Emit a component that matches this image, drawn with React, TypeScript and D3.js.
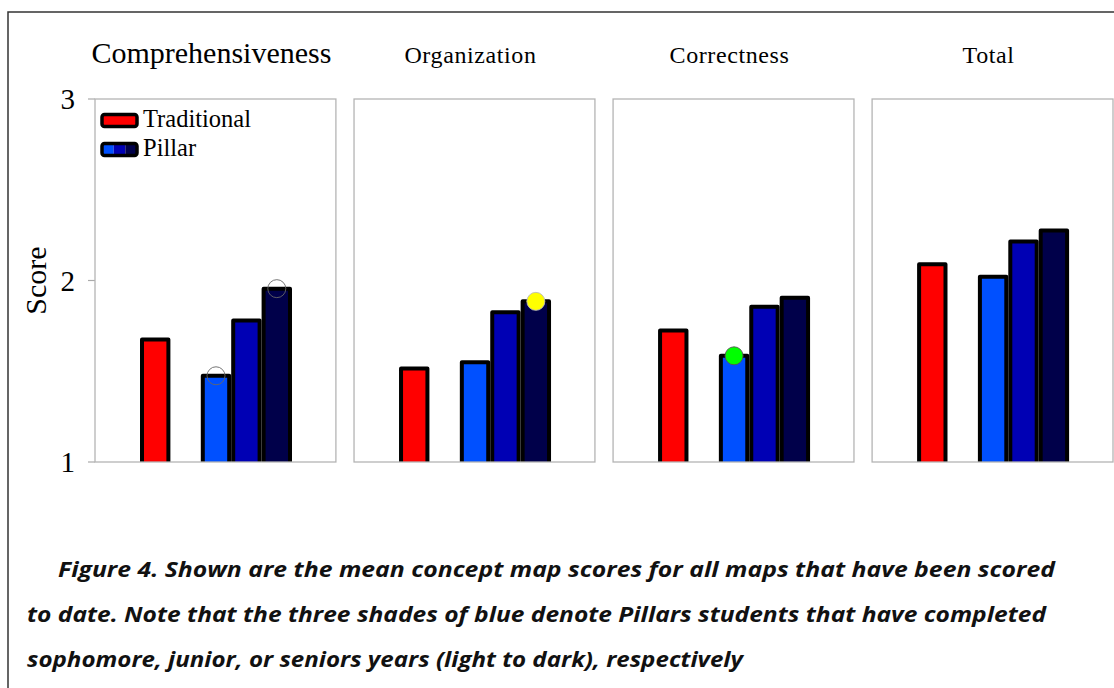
import { useEffect, useRef } from 'react';
import * as d3 from 'd3';

const metrics = ['Comprehensiveness', 'Organization', 'Correctness', 'Total'];
const groups = ['Traditional', 'gap', 'Sophomore', 'Junior', 'Senior'];
const traditional = [1.675, 1.515, 1.725, 2.09];
const sophomore = [1.475, 1.55, 1.585, 2.02];
const junior = [1.78, 1.825, 1.855, 2.215];
const senior = [1.955, 1.885, 1.905, 2.275];
const yTicks = [1, 2, 3];
// markers sitting on top of some bars: [metric, group, fill, stroke]
const markers: Array<[string, string, string, string]> = [
  ['Comprehensiveness', 'Sophomore', 'none', '#666'],
  ['Comprehensiveness', 'Senior', 'none', '#666'],
  ['Organization', 'Senior', '#ffff00', '#bbb'],
  ['Correctness', 'Sophomore', '#00ff00', '#555'],
];
const captionLines = [
  'Figure 4. Shown are the mean concept map scores for all maps that have been scored',
  'to date. Note that the three shades of blue denote Pillars students that have completed',
  'sophomore, junior, or seniors years (light to dark), respectively',
];

const colours: Record<string, string> = {
  Traditional: '#ff0000',
  Sophomore: '#0050ff',
  Junior: '#0000b4',
  Senior: '#00004a',
};

const App = () => {
  const svgRef = useRef(null);

  useEffect(() => {
    const width = 1114;
    const height = 688;
    const svg = d3.select(svgRef.current);
    svg.selectAll('*').remove();

    const serif = "'Liberation Serif', 'Times New Roman', serif";

    // outer frame
    svg.append('path')
      .attr('d', `M8,${height} V12 H${width}`)
      .attr('fill', 'none')
      .attr('stroke', '#333')
      .attr('stroke-width', 1.5);

    const panelScale = d3.scaleBand().domain(metrics).range([95, 1113]).paddingInner(0.07);
    const yScale = d3.scaleLinear().domain([1, 3]).range([462, 99]);
    const values: Record<string, number[]> = {
      Traditional: traditional,
      Sophomore: sophomore,
      Junior: junior,
      Senior: senior,
    };

    // y axis labels
    svg.append('text')
      .attr('transform', `translate(46,${yScale(2)}) rotate(-90)`)
      .attr('text-anchor', 'middle')
      .style('font-family', serif)
      .style('font-size', '30px')
      .text('Score');

    yTicks.forEach((t) => {
      svg.append('line')
        .attr('x1', 88).attr('x2', 95)
        .attr('y1', yScale(t)).attr('y2', yScale(t))
        .attr('stroke', '#aaa').attr('stroke-width', 1.2);
      svg.append('text')
        .attr('x', 75)
        .attr('y', yScale(t) + 10)
        .attr('text-anchor', 'end')
        .style('font-family', serif)
        .style('font-size', '29px')
        .text(t);
    });

    metrics.forEach((m, mi) => {
      const px = panelScale(m) as number;
      const pw = panelScale.bandwidth();
      const barScale = d3.scaleBand().domain(groups).range([px + 45, px + 197]);

      svg.append('text')
        .attr('x', px + pw / 2 - 4)
        .attr('y', 63)
        .attr('text-anchor', 'middle')
        .style('font-family', serif)
        .style('font-size', mi === 0 ? '30px' : '24px')
        .style('letter-spacing', mi === 0 ? '0px' : '0.6px')
        .text(m);

      const bars = svg.append('g');
      ['Traditional', 'Sophomore', 'Junior', 'Senior'].forEach((g) => {
        const bx = barScale(g) as number;
        const bw = barScale.bandwidth();
        const top = yScale(values[g][mi]);
        const base = yScale(1);
        bars.append('path')
          .attr('d', `M${bx + 2},${base} V${top} H${bx + bw - 2} V${base}`)
          .attr('fill', colours[g])
          .attr('stroke', '#000')
          .attr('stroke-width', 4)
          .attr('stroke-linejoin', 'round');
      });

      svg.append('rect')
        .attr('x', px)
        .attr('y', yScale(3))
        .attr('width', pw)
        .attr('height', yScale(1) - yScale(3))
        .attr('fill', 'none')
        .attr('stroke', '#b4b4b4')
        .attr('stroke-width', 1.3);

      markers.filter((d) => d[0] === m).forEach((d) => {
        const g = d[1];
        svg.append('circle')
          .attr('cx', (barScale(g) as number) + barScale.bandwidth() / 2)
          .attr('cy', yScale(values[g][mi]))
          .attr('r', 9)
          .attr('fill', d[2])
          .attr('stroke', d[3])
          .attr('stroke-width', 0.9);
      });
    });

    // legend
    const legend = svg.append('g');
    legend.append('rect')
      .attr('x', 102).attr('y', 114.5).attr('width', 35).attr('height', 12)
      .attr('rx', 2.5)
      .attr('fill', colours.Traditional)
      .attr('stroke', '#000').attr('stroke-width', 3.5);
    const segs = ['Sophomore', 'Junior', 'Senior'];
    const segScale = d3.scaleBand().domain(segs).range([102, 137]);
    segs.forEach((s) => {
      legend.append('rect')
        .attr('x', segScale(s) as number).attr('y', 143.5)
        .attr('width', segScale.bandwidth()).attr('height', 12)
        .attr('fill', colours[s]);
    });
    legend.append('rect')
      .attr('x', 102).attr('y', 143.5).attr('width', 35).attr('height', 12)
      .attr('rx', 2.5)
      .attr('fill', 'none')
      .attr('stroke', '#000').attr('stroke-width', 3.5);
    legend.append('text')
      .attr('x', 143).attr('y', 127)
      .style('font-family', serif).style('font-size', '24.5px')
      .text('Traditional');
    legend.append('text')
      .attr('x', 143).attr('y', 156)
      .style('font-family', serif).style('font-size', '24.5px')
      .text('Pillar');

    // caption
    const capX = [58, 27, 27];
    const capY = [577, 622, 667];
    const capLen = [997, 1019, 716];
    captionLines.forEach((line, i) => {
      svg.append('text')
        .attr('x', capX[i])
        .attr('y', capY[i])
        .attr('textLength', capLen[i])
        .attr('lengthAdjust', 'spacingAndGlyphs')
        .style('font-family', "'Open Sans', 'Lato', sans-serif")
        .style('font-weight', 700)
        .style('font-style', 'italic')
        .style('font-size', '20.5px')
        .style('fill', '#111')
        .text(line);
    });
  }, []);

  return (
    <svg
      ref={svgRef}
      width={1114}
      height={688}
      style={{ position: 'absolute', left: 0, top: 0, background: '#fff' }}
    />
  );
};

export default App;
